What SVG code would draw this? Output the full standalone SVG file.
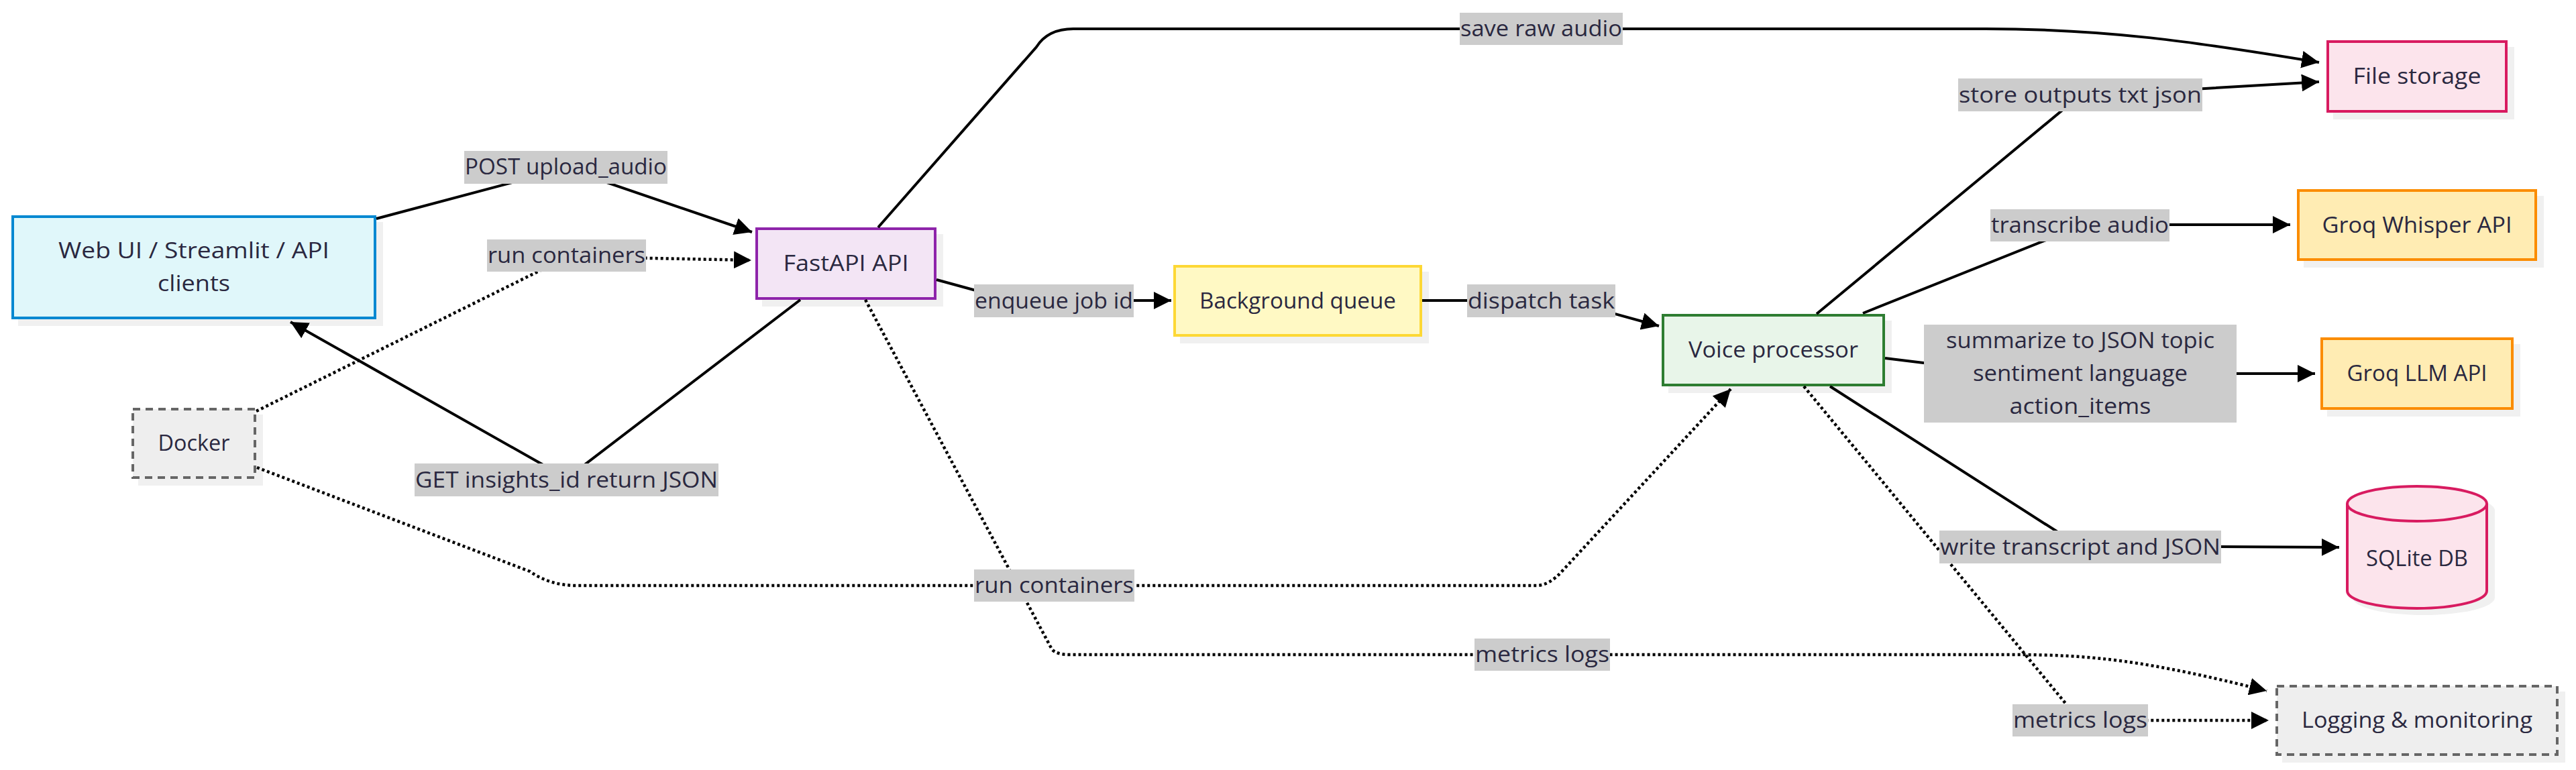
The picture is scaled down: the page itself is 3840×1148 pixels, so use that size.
<svg xmlns="http://www.w3.org/2000/svg" width="3840" height="1148" viewBox="0 0 3840 1148">
<style>
.t{font-family:"Open Sans","Liberation Sans",sans-serif;font-size:32.6px;fill:#2a2840;text-anchor:middle}
.lb{fill:#cccccc}
.sh{fill:#f0f0f0}
.e{fill:none;stroke:#000;stroke-width:4}
.d{stroke-dasharray:4 4;stroke-width:4.5}
.n{stroke-width:4}
</style>
<defs>
<marker id="ah" viewBox="0 0 10 10" refX="10" refY="5" markerUnits="userSpaceOnUse" markerWidth="26" markerHeight="26" orient="auto"><path d="M0,0 L10,5 L0,10 z" fill="#000"/></marker>
</defs>
<rect width="3840" height="1148" fill="#ffffff"/>

<g id="nodes">
<g id="webui">
<rect class="sh" x="27" y="331" width="544" height="155"/>
<rect class="n" x="19" y="323" width="540" height="151" fill="#e0f7fa" stroke="#0288d1"/>
<text class="t" x="289" y="385" textLength="404" lengthAdjust="spacingAndGlyphs">Web UI / Streamlit / API</text>
<text class="t" x="289" y="434" textLength="108" lengthAdjust="spacingAndGlyphs">clients</text>
</g>
<g id="docker">
<rect class="sh" x="206" y="618" width="186" height="106"/>
<rect class="n" x="198" y="610" width="182" height="102" fill="#eeeeee" stroke="#666666" stroke-dasharray="11 8"/>
<text class="t" x="289" y="672" textLength="107" lengthAdjust="spacingAndGlyphs">Docker</text>
</g>
<g id="fastapi">
<rect class="sh" x="1136" y="349" width="270" height="108"/>
<rect class="n" x="1128" y="341" width="266" height="104" fill="#f3e5f5" stroke="#8e24aa"/>
<text class="t" x="1261" y="404" textLength="187" lengthAdjust="spacingAndGlyphs">FastAPI API</text>
</g>
<g id="bgqueue">
<rect class="sh" x="1759" y="405" width="371" height="107"/>
<rect class="n" x="1751" y="397" width="367" height="103" fill="#fff9c4" stroke="#fdd835"/>
<text class="t" x="1934.5" y="460" textLength="293" lengthAdjust="spacingAndGlyphs">Background queue</text>
</g>
<g id="voice">
<rect class="sh" x="2487" y="478" width="333" height="108"/>
<rect class="n" x="2479" y="470" width="329" height="104" fill="#e8f5e9" stroke="#2e7d32"/>
<text class="t" x="2643.5" y="533" textLength="253" lengthAdjust="spacingAndGlyphs">Voice processor</text>
</g>
<g id="filestorage">
<rect class="sh" x="3478" y="70" width="270" height="108"/>
<rect class="n" x="3470" y="62" width="266" height="104" fill="#fce4ec" stroke="#d81b60"/>
<text class="t" x="3603" y="125" textLength="191" lengthAdjust="spacingAndGlyphs">File storage</text>
</g>
<g id="whisper">
<rect class="sh" x="3434" y="292" width="358" height="107"/>
<rect class="n" x="3426" y="284" width="354" height="103" fill="#ffecb3" stroke="#fb8c00"/>
<text class="t" x="3603" y="347" textLength="283" lengthAdjust="spacingAndGlyphs">Groq Whisper API</text>
</g>
<g id="llm">
<rect class="sh" x="3469" y="513" width="288" height="108"/>
<rect class="n" x="3461" y="505" width="284" height="104" fill="#ffecb3" stroke="#fb8c00"/>
<text class="t" x="3603" y="568" textLength="209" lengthAdjust="spacingAndGlyphs">Groq LLM API</text>
</g>
<g id="sqlite">
<path class="sh" d="M3507,761 L3507,891 A106,26 0 0 0 3719,891 L3719,761 A106,26 0 0 0 3507,761 Z"/>
<path class="n" d="M3499,751 L3499,881 A104,26 0 0 0 3707,881 L3707,751 A104,26 0 0 0 3499,751 Z" fill="#fce4ec" stroke="#d81b60"/>
<path class="n" d="M3499,751 A104,26 0 0 0 3707,751" fill="none" stroke="#d81b60"/>
<text class="t" x="3603" y="844" textLength="152" lengthAdjust="spacingAndGlyphs">SQLite DB</text>
</g>
<g id="logging">
<rect class="sh" x="3402" y="1031" width="422" height="106"/>
<rect class="n" x="3394" y="1023" width="418" height="102" fill="#eeeeee" stroke="#666666" stroke-dasharray="11 8"/>
<text class="t" x="3603" y="1085" textLength="344" lengthAdjust="spacingAndGlyphs">Logging &amp; monitoring</text>
</g>
</g>

<g id="connectors">
<path class="e" d="M561,326 L843,251 L1121,346" marker-end="url(#ah)"/>
<path class="e d" d="M382,613 L836,388 Q850,382 875,383 L1120,388" marker-end="url(#ah)"/>
<path class="e" d="M1193,447 L845,713 L433,480" marker-end="url(#ah)"/>
<path class="e" d="M1309,339 L1545,70 Q1562,43 1600,43 L2960,43 C3140,43 3270,62 3457,93" marker-end="url(#ah)"/>
<path class="e" d="M1396,417 L1480,440 Q1500,448 1530,448 L1746,448" marker-end="url(#ah)"/>
<path class="e" d="M2120,448 L2340,448 Q2370,450 2400,466 L2473,486" marker-end="url(#ah)"/>
<path class="e" d="M2708,468 L3100,143 L3457,122" marker-end="url(#ah)"/>
<path class="e" d="M2777,467 L3100,338 Q3110,335 3130,335 L3414,335" marker-end="url(#ah)"/>
<path class="e" d="M2810,534 L2900,545 Q2950,557 3000,557 L3451,557" marker-end="url(#ah)"/>
<path class="e" d="M2728,576 L3100,814 L3487,816" marker-end="url(#ah)"/>
<path class="e d" d="M2689,576 L3100,1074 L3382,1074" marker-end="url(#ah)"/>
<path class="e d" d="M1290,447 L1568,968 Q1575,976 1595,976 L3000,976 C3120,976 3200,985 3379,1030" marker-end="url(#ah)"/>
<path class="e d" d="M383,697 L790,852 Q820,873 860,873 L2290,873 Q2310,873 2330,850 L2580,580" marker-end="url(#ah)"/>
</g>

<g id="edge-labels">
<rect class="lb" x="692" y="225" width="303" height="49"/>
<text class="t" x="843.5" y="260" textLength="301" lengthAdjust="spacingAndGlyphs">POST upload_audio</text>
<rect class="lb" x="726" y="357" width="237" height="48"/>
<text class="t" x="844.5" y="392" textLength="235" lengthAdjust="spacingAndGlyphs">run containers</text>
<rect class="lb" x="618" y="691" width="453" height="49"/>
<text class="t" x="844.5" y="727" textLength="451" lengthAdjust="spacingAndGlyphs">GET insights_id return JSON</text>
<rect class="lb" x="1452" y="424" width="238" height="49"/>
<text class="t" x="1571" y="460" textLength="236" lengthAdjust="spacingAndGlyphs">enqueue job id</text>
<rect class="lb" x="2187" y="424" width="221" height="49"/>
<text class="t" x="2297.5" y="460" textLength="219" lengthAdjust="spacingAndGlyphs">dispatch task</text>
<rect class="lb" x="2176" y="19" width="243" height="48"/>
<text class="t" x="2297.5" y="54" textLength="241" lengthAdjust="spacingAndGlyphs">save raw audio</text>
<rect class="lb" x="2919" y="117" width="364" height="49"/>
<text class="t" x="3101" y="153" textLength="362" lengthAdjust="spacingAndGlyphs">store outputs txt json</text>
<rect class="lb" x="2967" y="312" width="267" height="48"/>
<text class="t" x="3100.5" y="347" textLength="265" lengthAdjust="spacingAndGlyphs">transcribe audio</text>
<rect class="lb" x="2868" y="484" width="466" height="146"/>
<text class="t" x="3101" y="519" textLength="400" lengthAdjust="spacingAndGlyphs">summarize to JSON topic</text>
<text class="t" x="3101" y="568" textLength="320" lengthAdjust="spacingAndGlyphs">sentiment language</text>
<text class="t" x="3101" y="617" textLength="211" lengthAdjust="spacingAndGlyphs">action_items</text>
<rect class="lb" x="2891" y="791" width="420" height="49"/>
<text class="t" x="3101" y="827" textLength="418" lengthAdjust="spacingAndGlyphs">write transcript and JSON</text>
<rect class="lb" x="3000" y="1050" width="202" height="48"/>
<text class="t" x="3101" y="1085" textLength="200" lengthAdjust="spacingAndGlyphs">metrics logs</text>
<rect class="lb" x="1452" y="849" width="239" height="48"/>
<text class="t" x="1571.5" y="884" textLength="237" lengthAdjust="spacingAndGlyphs">run containers</text>
<rect class="lb" x="2198" y="952" width="202" height="48"/>
<text class="t" x="2299" y="987" textLength="200" lengthAdjust="spacingAndGlyphs">metrics logs</text>
</g>
</svg>
